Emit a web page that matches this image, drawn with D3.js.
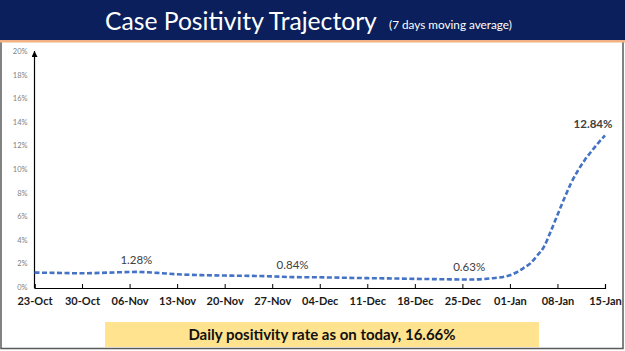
<!DOCTYPE html>
<html>
<head>
<meta charset="utf-8">
<script src="https://cdn.jsdelivr.net/npm/d3@7"></script>
<style>
  body { margin: 0; background: #fff; }
  svg { display: block; }
</style>
</head>
<body>
<svg id="chart"></svg>
<script>
// 7-day moving average of case positivity (%)
const dates = [
  "2020-10-23", "2020-10-27", "2020-10-30", "2020-11-03", "2020-11-07",
  "2020-11-10", "2020-11-13", "2020-11-17", "2020-11-20", "2020-11-24",
  "2020-11-27", "2020-11-30", "2020-12-04", "2020-12-08", "2020-12-11",
  "2020-12-15", "2020-12-18", "2020-12-22", "2020-12-26", "2020-12-29",
  "2021-01-01", "2021-01-02", "2021-01-03", "2021-01-04", "2021-01-05",
  "2021-01-06", "2021-01-07", "2021-01-08", "2021-01-09", "2021-01-10",
  "2021-01-11", "2021-01-12", "2021-01-13", "2021-01-14", "2021-01-15"
];
const positivity = [
  1.22, 1.19, 1.16, 1.22, 1.28,
  1.20, 1.08, 1.00, 0.97, 0.94,
  0.90, 0.84, 0.82, 0.78, 0.75,
  0.72, 0.69, 0.66, 0.63, 0.72,
  1.00, 1.25, 1.60, 2.00, 2.65,
  3.40, 4.70, 6.10, 7.50, 8.80,
  9.85, 10.75, 11.50, 12.20, 12.84
];

// x axis tick labels (weekly) and y axis ticks
const xTickDates = [
  "2020-10-23", "2020-10-30", "2020-11-06", "2020-11-13", "2020-11-20",
  "2020-11-27", "2020-12-04", "2020-12-11", "2020-12-18", "2020-12-25",
  "2021-01-01", "2021-01-08", "2021-01-15"
];
const yTicks = [0, 2, 4, 6, 8, 10, 12, 14, 16, 18, 20];

// annotated points
const labelDates = ["2020-11-07", "2020-11-30", "2020-12-26", "2021-01-15"];
const labelTexts = ["1.28%", "0.84%", "0.63%", "12.84%"];

const titleText = "Case Positivity Trajectory";
const subtitleText = "(7 days moving average)";
const footerText = "Daily positivity rate as on today, 16.66%";

const W = 625, H = 351;
const font = "Lato, 'Open Sans', sans-serif";
const parse = d3.timeParse("%Y-%m-%d");
const data = dates.map((d, i) => ({ date: parse(d), value: positivity[i] }));

const svg = d3.select("#chart").attr("width", W).attr("height", H);

// slide frame
svg.append("rect")
  .attr("x", 1).attr("y", 0)
  .attr("width", W - 3).attr("height", H - 2.5)
  .attr("fill", "#fff")
  .attr("stroke", "#595959")
  .attr("stroke-width", 1.5);

// title band
svg.append("rect")
  .attr("x", 0).attr("y", 0)
  .attr("width", W).attr("height", 40)
  .attr("fill", "#0a1f5c");
svg.append("rect")
  .attr("x", 0).attr("y", 40)
  .attr("width", W).attr("height", 2.5)
  .attr("fill", "#f2b184");

// size a text so that it spans the given width
function fitText(sel, size, width) {
  sel.attr("font-size", size);
  const w = sel.node().getComputedTextLength();
  sel.attr("font-size", size * width / w);
}

svg.append("text")
  .attr("x", 105).attr("y", 30)
  .attr("fill", "#fff")
  .attr("font-family", font)
  .text(titleText)
  .call(fitText, 27, 272);
svg.append("text")
  .attr("x", 389).attr("y", 29)
  .attr("fill", "#fff")
  .attr("font-family", font)
  .text(subtitleText)
  .call(fitText, 13, 123);

// scales
const x = d3.scaleTime()
  .domain([parse(xTickDates[0]), parse(xTickDates[xTickDates.length - 1])])
  .range([34.5, 605]);
const y = d3.scaleLinear()
  .domain([0, 20])
  .range([287, 51]);

// y axis: labels only, line drawn separately with an arrow
svg.append("g")
  .attr("transform", "translate(34.5,0)")
  .call(d3.axisLeft(y).tickValues(yTicks).tickSize(0).tickPadding(7)
    .tickFormat(d => d + "%"))
  .call(g => g.select(".domain").remove())
  .selectAll("text")
    .attr("fill", "#808080")
    .attr("font-family", font)
    .attr("font-size", 7.5);

svg.append("defs").append("marker")
  .attr("id", "arrow")
  .attr("viewBox", "0 0 10 10")
  .attr("refX", 10).attr("refY", 5)
  .attr("markerWidth", 7).attr("markerHeight", 6)
  .attr("orient", "auto")
  .attr("markerUnits", "userSpaceOnUse")
  .append("path")
    .attr("d", "M0,0 L10,5 L0,10 Z")
    .attr("fill", "#000");

svg.append("line")
  .attr("x1", 34.5).attr("x2", 34.5)
  .attr("y1", 288).attr("y2", y(20))
  .attr("stroke", "#000")
  .attr("stroke-width", 1.2)
  .attr("marker-end", "url(#arrow)");

// x axis
const xAxis = svg.append("g")
  .attr("transform", "translate(0,288)")
  .call(d3.axisBottom(x)
    .tickValues(xTickDates.map(parse))
    .tickSize(-4)
    .tickPadding(9)
    .tickFormat(d3.timeFormat("%d-%b")));
xAxis.select(".domain")
  .attr("stroke", "#000")
  .attr("stroke-width", 1.2);
xAxis.selectAll(".tick line")
  .attr("stroke", "#000");
xAxis.selectAll("text")
  .attr("fill", "#1a1a1a")
  .attr("font-family", font)
  .attr("font-weight", "bold")
  .attr("font-size", 11);

// the trajectory line
const line = d3.line()
  .x(d => x(d.date))
  .y(d => y(d.value))
  .curve(d3.curveMonotoneX);

svg.append("path")
  .datum(data)
  .attr("fill", "none")
  .attr("stroke", "#4472c4")
  .attr("stroke-width", 2.6)
  .attr("stroke-dasharray", "5,2.5")
  .attr("d", line);

// point labels
const labelDx = [0, 0, 0, -12];
const labelDy = [-8, -8, -8.5, -7];
labelDates.forEach((d, i) => {
  const pt = data.find(p => +p.date === +parse(d));
  svg.append("text")
    .attr("x", x(pt.date) + labelDx[i])
    .attr("y", y(pt.value) + labelDy[i])
    .attr("text-anchor", "middle")
    .attr("fill", "#404040")
    .attr("font-family", font)
    .attr("font-weight", i === 3 ? "bold" : "normal")
    .attr("font-size", 11.5)
    .text(labelTexts[i]);
});

// footer box
svg.append("rect")
  .attr("x", 105).attr("y", 322)
  .attr("width", 434).attr("height", 25)
  .attr("fill", "#ffe38f");
svg.append("text")
  .attr("x", 322).attr("y", 339.5)
  .attr("text-anchor", "middle")
  .attr("fill", "#111")
  .attr("font-family", font)
  .attr("font-weight", "bold")
  .attr("font-size", 15)
  .text(footerText);
</script>
</body>
</html>
